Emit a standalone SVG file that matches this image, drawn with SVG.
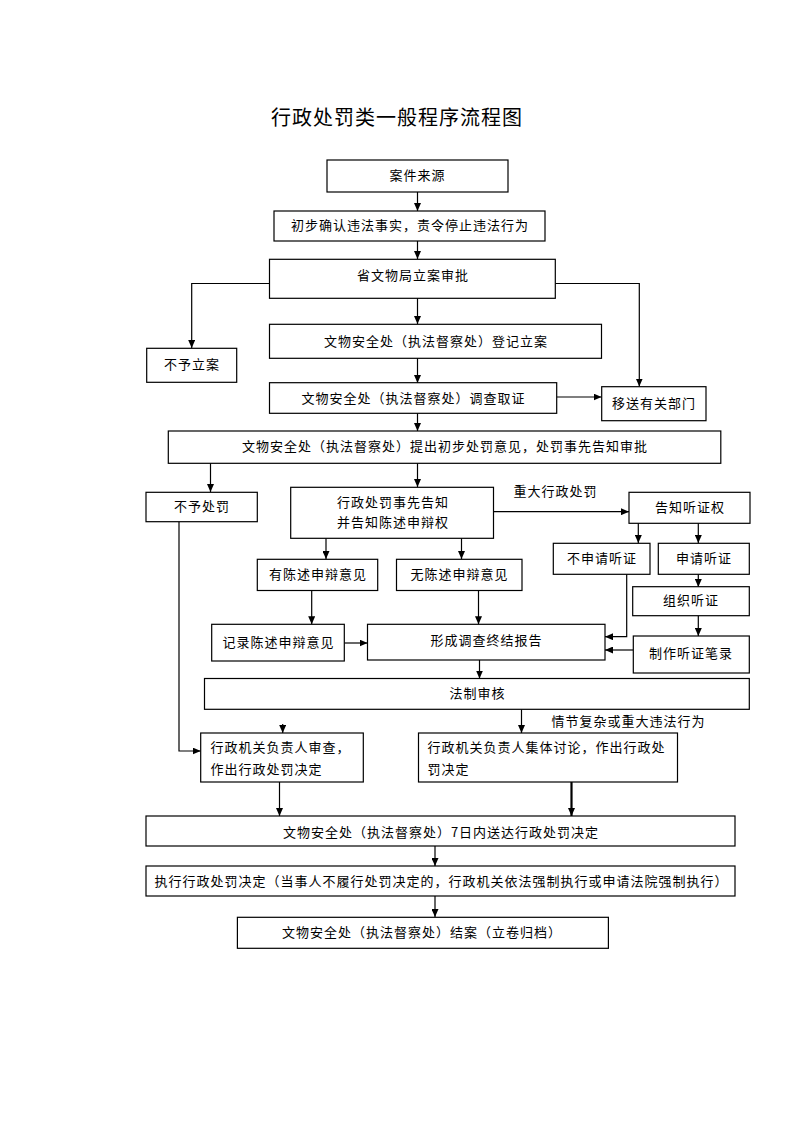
<svg xmlns="http://www.w3.org/2000/svg" width="794" height="1123" viewBox="0 0 794 1123">
<style>
  .bg{fill:#ffffff}
  .box{fill:#ffffff;stroke:#000000;stroke-width:1.2}
  .t{font-family:"Noto Sans CJK SC","Noto Sans",sans-serif;font-size:13px;letter-spacing:1px;fill:#000000;dominant-baseline:central;transform:translateY(-1.5px)}
  .c{text-anchor:middle}
  .title{font-family:"Noto Sans CJK SC","Noto Sans",sans-serif;font-size:20px;letter-spacing:1px;fill:#000000;text-anchor:middle;dominant-baseline:central}
  .ln{fill:none;stroke:#000000;stroke-width:1.2;marker-end:url(#ah)}
  .thick{stroke-width:2.2}
</style>
<defs>
  <marker id="ah" viewBox="0 0 8 7" refX="8" refY="3.5" markerWidth="8" markerHeight="7" markerUnits="userSpaceOnUse" orient="auto">
    <path d="M0,0 L8,3.5 L0,7 z" fill="#000000"/>
  </marker>
</defs>
<rect class="bg" x="0" y="0" width="794" height="1123"/>

<text class="title" x="397" y="116.5">行政处罚类一般程序流程图</text>

<g id="connectors">
  <path class="ln" d="M417.5,192 V211"/>
  <path class="ln" d="M417.5,241 V259"/>
  <path class="ln" d="M269.5,283.5 H191.7 V348"/>
  <path class="ln" d="M555.3,283.5 H639.3 V386.5"/>
  <path class="ln" d="M417.5,298 V324"/>
  <path class="ln" d="M417.5,358 V383"/>
  <path class="ln" d="M557,397 H601.5"/>
  <path class="ln" d="M417.5,413 V431"/>
  <path class="ln" d="M210.5,463 V492"/>
  <path class="ln" d="M417.5,463 V487"/>
  <path class="ln" d="M493.5,511.7 H629"/>
  <path class="ln" d="M638.3,523 V543"/>
  <path class="ln" d="M698.3,523 V543"/>
  <path class="ln" d="M698.3,574 V587"/>
  <path class="ln" d="M698.3,616 V636"/>
  <path class="ln" d="M626.7,574 V636.7 H605"/>
  <path class="ln" d="M633.3,650 H605"/>
  <path class="ln" d="M326,538 V559"/>
  <path class="ln" d="M461.5,538 V559"/>
  <path class="ln" d="M311.7,590.5 V624.3"/>
  <path class="ln" d="M478.5,590.5 V624.3"/>
  <path class="ln" d="M344.3,643 H367.5"/>
  <path class="ln" d="M479.5,660 V678.5"/>
  <path class="ln" d="M179,522 V751 H200.7"/>
  <path class="ln" d="M282.7,724 V733"/>
  <path class="ln" d="M521.5,709.3 V733"/>
  <path class="ln" d="M279.5,782 V816"/>
  <path class="ln thick" d="M571.5,782 V816"/>
  <path class="ln" d="M435,846 V866"/>
  <path class="ln" d="M435,896 V917"/>
</g>

<g id="n-source"><rect class="box" x="327" y="160" width="181" height="32"/><text class="t c" x="417.5" y="176">案件来源</text></g>
<g id="n-confirm"><rect class="box" x="274" y="211" width="271" height="30"/><text class="t c" x="410" y="226">初步确认违法事实，责令停止违法行为</text></g>
<g id="n-approve"><rect class="box" x="269.5" y="259.3" width="285.8" height="39"/><text class="t c" x="413" y="276">省文物局立案审批</text></g>
<g id="n-noreg"><rect class="box" x="146.7" y="348.3" width="90" height="34"/><text class="t c" x="192" y="365">不予立案</text></g>
<g id="n-register"><rect class="box" x="269.5" y="324.3" width="332" height="34"/><text class="t c" x="436" y="342">文物安全处（执法督察处）登记立案</text></g>
<g id="n-investigate"><rect class="box" x="269.5" y="382.7" width="287.2" height="30.6"/><text class="t c" x="413.5" y="398.5">文物安全处（执法督察处）调查取证</text></g>
<g id="n-transfer"><rect class="box" x="601.7" y="386.7" width="104.3" height="34"/><text class="t c" x="654" y="404">移送有关部门</text></g>
<g id="n-propose"><rect class="box" x="168.3" y="431" width="552.5" height="32.3"/><text class="t c" x="445" y="447">文物安全处（执法督察处）提出初步处罚意见，处罚事先告知审批</text></g>
<g id="n-nopenalty"><rect class="box" x="146" y="492.3" width="111.3" height="29.4"/><text class="t c" x="202" y="507">不予处罚</text></g>
<g id="n-notify"><rect class="box" x="290.7" y="487.3" width="202.8" height="51"/><text class="t c" x="393" y="503">行政处罚事先告知</text><text class="t c" x="393" y="523">并告知陈述申辩权</text></g>
<g id="n-hearright"><rect class="box" x="629" y="492.3" width="121" height="31"/><text class="t c" x="690" y="508">告知听证权</text></g>
<g id="n-nohear"><rect class="box" x="553.3" y="543.3" width="96.7" height="31"/><text class="t c" x="602" y="559">不申请听证</text></g>
<g id="n-applyhear"><rect class="box" x="658.3" y="543.3" width="91" height="31"/><text class="t c" x="704" y="559">申请听证</text></g>
<g id="n-organize"><rect class="box" x="632.7" y="586.7" width="116.6" height="29"/><text class="t c" x="691" y="601">组织听证</text></g>
<g id="n-record-hear"><rect class="box" x="633.3" y="636" width="116" height="37"/><text class="t c" x="691" y="654">制作听证笔录</text></g>
<g id="n-hasopinion"><rect class="box" x="257.3" y="559.3" width="120.4" height="31.2"/><text class="t c" x="318" y="575">有陈述申辩意见</text></g>
<g id="n-noopinion"><rect class="box" x="396.5" y="559.3" width="125.5" height="31.2"/><text class="t c" x="459.5" y="575">无陈述申辩意见</text></g>
<g id="n-recordopinion"><rect class="box" x="211.7" y="624.3" width="132.6" height="36.7"/><text class="t c" x="278.5" y="642.5">记录陈述申辩意见</text></g>
<g id="n-report"><rect class="box" x="367.5" y="624.3" width="237.5" height="35.7"/><text class="t c" x="486.5" y="641">形成调查终结报告</text></g>
<g id="n-legal"><rect class="box" x="204.5" y="678.5" width="544.8" height="30.8"/><text class="t c" x="477.5" y="693.5">法制审核</text></g>
<g id="n-review"><rect class="box" x="200.7" y="733" width="162.6" height="49"/><text class="t" x="210.5" y="747.5">行政机关负责人审查，</text><text class="t" x="210.5" y="769.5">作出行政处罚决定</text></g>
<g id="n-collective"><rect class="box" x="418.5" y="733" width="259" height="49"/><text class="t" x="427.5" y="747.5">行政机关负责人集体讨论，作出行政处</text><text class="t" x="427.5" y="769.5">罚决定</text></g>
<g id="n-deliver"><rect class="box" x="146" y="816" width="589" height="30"/><text class="t c" x="441" y="832.5">文物安全处（执法督察处）7日内送达行政处罚决定</text></g>
<g id="n-execute"><rect class="box" x="146" y="866" width="589" height="30"/><text class="t c" x="441.5" y="881.5">执行行政处罚决定（当事人不履行处罚决定的，行政机关依法强制执行或申请法院强制执行）</text></g>
<g id="n-close"><rect class="box" x="237.4" y="917.3" width="371" height="31"/><text class="t c" x="422" y="933">文物安全处（执法督察处）结案（立卷归档）</text></g>

<g id="labels">
  <text class="t c" x="555.5" y="492">重大行政处罚</text>
  <text class="t" x="551.5" y="721.5">情节复杂或重大违法行为</text>
</g>
</svg>
